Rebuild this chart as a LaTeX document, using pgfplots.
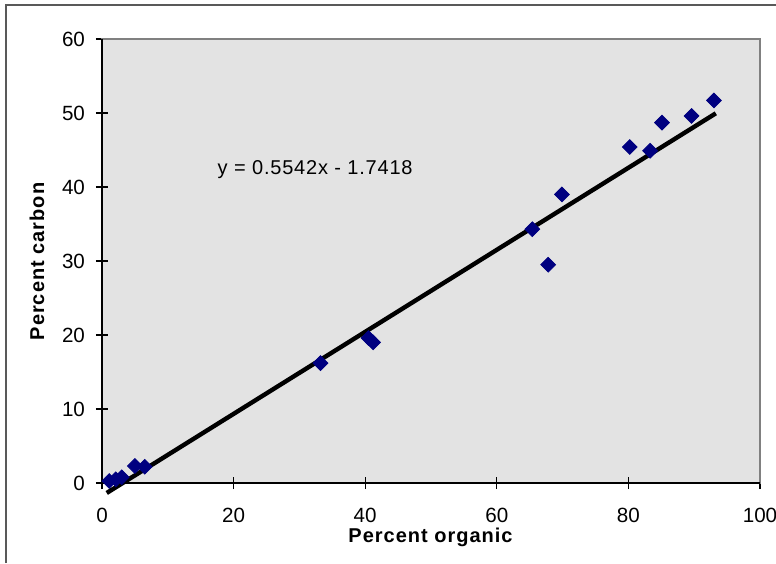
\documentclass[border=0pt]{standalone}
\usepackage{pgfplots}
\pgfplotsset{compat=1.18}
\usepackage{fontspec}
\setmainfont{Liberation Sans}
\definecolor{plotbg}{RGB}{227,227,227}
\definecolor{navymark}{RGB}{0,0,128}
\definecolor{frame}{RGB}{128,128,128}
\begin{document}
\begin{tikzpicture}
\useasboundingbox (-51pt,-40pt) rectangle (337pt,241.5pt);
\draw[black!65,line width=0.8pt] (-48pt,-40pt) -- (-48pt,239pt) -- (337pt,239pt);
\begin{axis}[
    at={(0,0)}, anchor=origin,
    scale only axis, width=329pt, height=222pt,
    xmin=0, xmax=100, ymin=0, ymax=60,
    xtick={0,20,...,100}, ytick={0,10,...,60},
    tick align=center, major tick length=6pt,
    xtick pos=bottom, ytick pos=left,
    tick style={black, line width=0.6pt},
    axis background/.style={fill=plotbg},
    axis line style={frame, line width=0.8pt},
    /pgf/number format/assume math mode=true,
    ticklabel style={font=\fontsize{10.3pt}{12pt}\selectfont},
    xticklabel style={yshift=-6pt},
    yticklabel style={xshift=-2pt},
    xlabel={\addfontfeature{LetterSpace=5}\textbf{Percent organic}},
    ylabel={\addfontfeature{LetterSpace=5}\textbf{Percent carbon}},
    label style={font=\fontsize{10pt}{12pt}\selectfont},
    xlabel style={yshift=4pt},
    ylabel style={yshift=2pt},
    clip=false,
]
\draw[black, line width=0.8pt] (axis cs:0,60) -- (axis cs:0,0) -- (axis cs:100,0);
\addplot[only marks, mark=square*, mark size=2.6pt, mark options={rotate=45}, color=navymark] coordinates {
  (1.1,0.27) (2.1,0.5) (3.0,0.77) (5.0,2.3) (6.5,2.2)
  (33.2,16.2) (40.5,19.6) (41.2,19.0)
  (65.4,34.3) (67.8,29.5) (69.9,39.0)
  (80.2,45.4) (83.3,44.9) (85.1,48.7) (89.6,49.6) (93.0,51.7)
};
\addplot[black, line width=2.2pt, line cap=rect] coordinates {
  (1.0,-1.19) (93.0,49.80)
};
\node[font=\fontsize{10pt}{12pt}\selectfont\addfontfeature{LetterSpace=4}] at (axis cs:32.4,42.3) {y = 0.5542x - 1.7418};
\end{axis}
\end{tikzpicture}
\end{document}
